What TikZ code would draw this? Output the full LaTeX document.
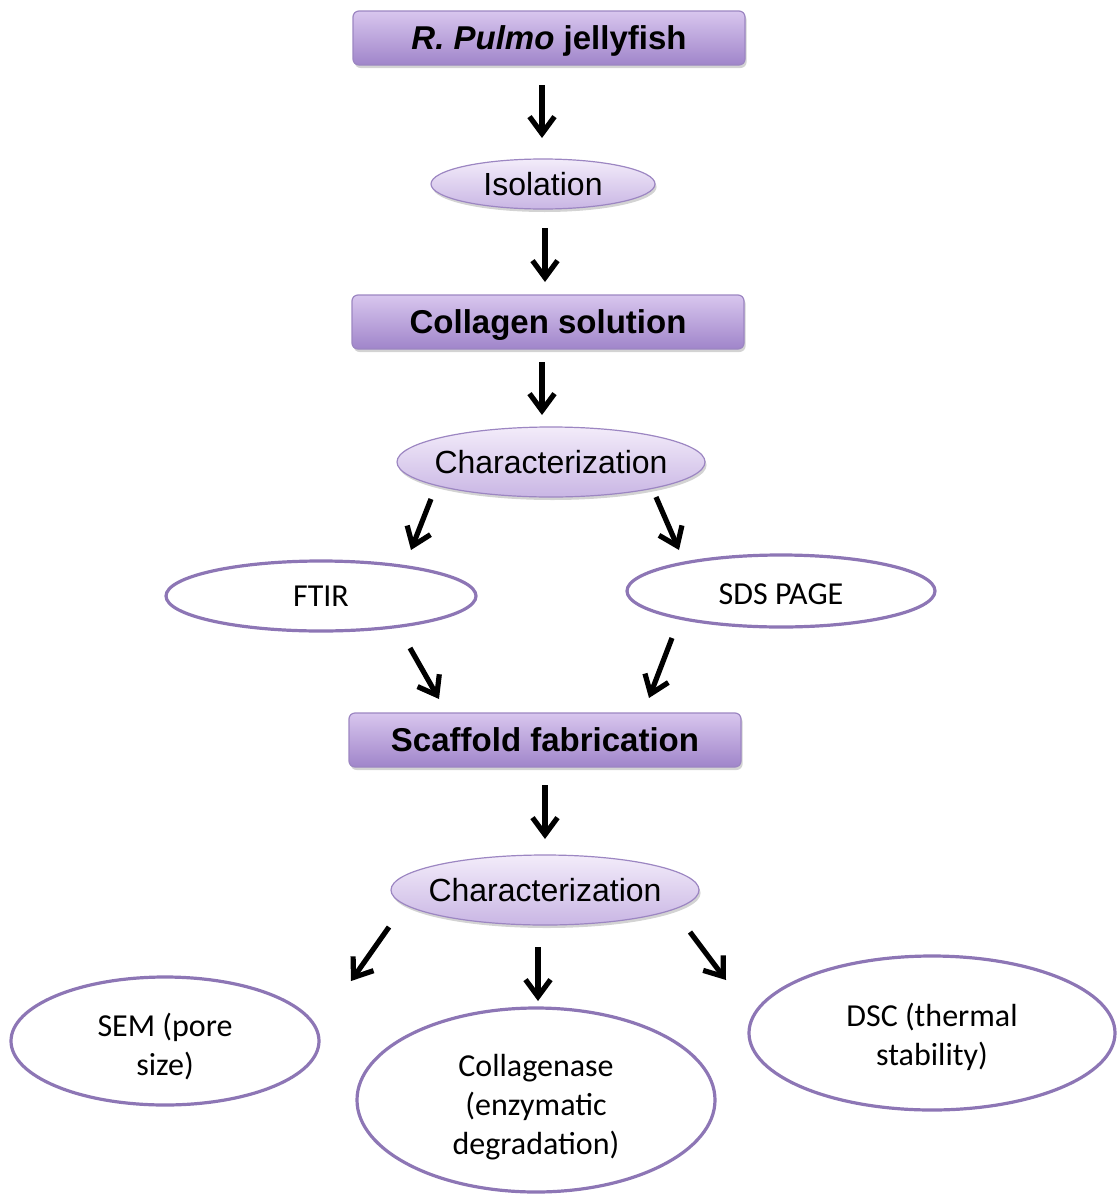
\documentclass[tikz,border=0pt]{standalone}
\usepackage{fontspec}
\setmainfont{Liberation Sans}
\newfontfamily\calibrifont{Carlito}
\usetikzlibrary{shapes.geometric,arrows.meta,shadows}
\definecolor{boxtop}{HTML}{D8C6EE}
\definecolor{boxbot}{HTML}{A085CA}
\definecolor{elltop}{HTML}{F3ECFA}
\definecolor{ellbot}{HTML}{C9B6E4}
\definecolor{edgepurple}{HTML}{9C86C2}
\definecolor{ringpurple}{HTML}{8D76B5}
\tikzset{
  x=0.5pt, y=-0.5pt,
  stagebox/.style={rectangle, rounded corners=3pt, draw=edgepurple, line width=0.6pt,
    top color=boxtop, bottom color=boxbot, minimum width=196pt, minimum height=27pt,
    inner sep=0pt, text height=11.3pt, text depth=0pt,
    font=\fontsize{16.5}{19}\selectfont\bfseries,
    drop shadow={shadow xshift=0.8pt, shadow yshift=-1.5pt, opacity=0.35}},
  stepell/.style={ellipse, draw=edgepurple, line width=0.6pt,
    top color=elltop, bottom color=ellbot, inner sep=0pt,
    font=\fontsize{16}{19}\selectfont,
    drop shadow={shadow xshift=0.8pt, shadow yshift=-1.5pt, opacity=0.35}},
  resell/.style={ellipse, draw=ringpurple, line width=1.6pt, fill=white, inner sep=0pt,
    align=center, font=\calibrifont\fontsize{16}{19.5}\selectfont},
  flowarrow/.style={line width=2.6pt, -{Straight Barb[length=8.5pt,width=12.5pt,line width=2.6pt]}}
}
\newcommand{\nowidth}[1]{\makebox[0pt]{#1}}
\newcommand{\lowerstrut}[1]{\rule{0pt}{#1}}
\begin{document}
\begin{tikzpicture}
\useasboundingbox (0,0) rectangle (1117,1194);

% nodes
\node[stagebox] (jelly) at (549,38) {\textit{R. Pulmo} jellyfish};
\node[stepell, minimum width=112pt, minimum height=25pt] (iso) at (543,184) {\nowidth{Isolation}};
\node[stagebox] (coll) at (548,322) {Collagen solution};
\node[stepell, minimum width=154pt, minimum height=35pt] (char1) at (551,462) {\nowidth{Characterization}};
\node[resell, minimum width=155pt, minimum height=35pt] (ftir) at (321,596) {FTIR};
\node[resell, minimum width=154pt, minimum height=36pt] (sds) at (781,591) {\lowerstrut{14pt}SDS PAGE};
\node[stagebox] (scaf) at (545,740) {Scaffold fabrication};
\node[stepell, minimum width=154pt, minimum height=35pt] (char2) at (545,890) {\nowidth{Characterization}};
\node[resell, minimum width=154pt, minimum height=64pt] (sem) at (165,1041) {\lowerstrut{17pt}SEM (pore\\size)};
\node[resell, minimum width=179pt, minimum height=92pt] (colg) at (536,1100) {\lowerstrut{18pt}Collagenase\\(enzymatic\\degradation)};
\node[resell, minimum width=183pt, minimum height=77pt] (dsc) at (932,1033) {\lowerstrut{16pt}DSC (thermal\\stability)};

% arrow end points (arrows float between the nodes)
\coordinate (a1s) at (542,85);   \coordinate (a1e) at (542,138);
\coordinate (a2s) at (545,228);  \coordinate (a2e) at (545,282);
\coordinate (a3s) at (542,362);  \coordinate (a3e) at (542,415);
\coordinate (a4s) at (431,499);  \coordinate (a4e) at (411,550);
\coordinate (a5s) at (656,497);  \coordinate (a5e) at (679,550);
\coordinate (a6s) at (410,648);  \coordinate (a6e) at (439,699);
\coordinate (a7s) at (672,638);  \coordinate (a7e) at (649,698);
\coordinate (a8s) at (545,785);  \coordinate (a8e) at (545,839);
\coordinate (a9s) at (389,927);  \coordinate (a9e) at (351,981);
\coordinate (a10s) at (538,947); \coordinate (a10e) at (538,1001);
\coordinate (a11s) at (690,932); \coordinate (a11e) at (726,980);

\foreach \i in {1,...,11}{\draw[flowarrow] (a\i s) -- (a\i e);}
\end{tikzpicture}
\end{document}
